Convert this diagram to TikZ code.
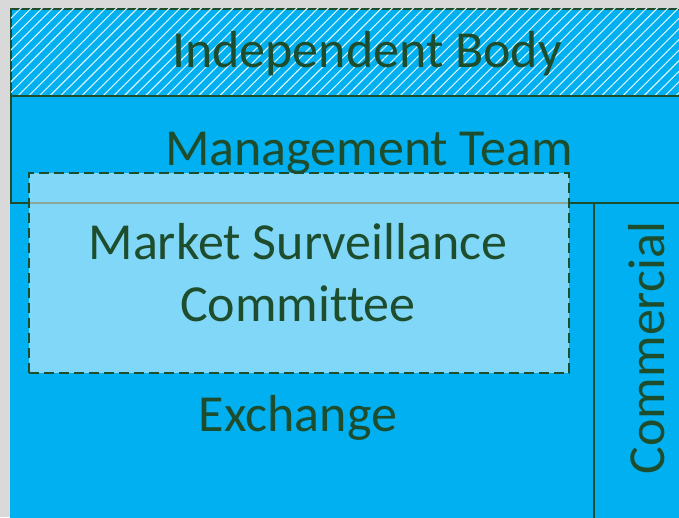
\documentclass[tikz,border=0pt]{standalone}
\usepackage{fontspec}
\setmainfont[Ligatures=NoCommon]{Carlito}
\usetikzlibrary{patterns.meta}
\definecolor{bg}{HTML}{D9D9D9}
\definecolor{blu}{HTML}{00B0F0}
\definecolor{ink}{HTML}{1E4D2E}
\tikzset{
  region/.style={fill=blu, draw=ink, line width=1.6pt},
  lbl/.style={text=ink, font=\fontsize{52}{62}\selectfont, inner sep=0pt, align=center},
}
\begin{document}
\begin{tikzpicture}[x=1pt,y=-1pt]
\useasboundingbox (0,0) rectangle (679,517);
\clip (0,0) rectangle (679,517);
\fill[bg] (0,0) rectangle (679,517);
% regions
\fill[blu] (10,202) rectangle (700,540);
\node[region, anchor=north west, minimum width=690pt, minimum height=87pt, inner sep=0pt] (ind) at (10,8) {};
\fill[pattern={Lines[angle=45,distance=7.5pt,line width=1.1pt]}, pattern color=white!85!blu] (10.8,8.8) rectangle (700,94.2);
\node[region, anchor=north west, minimum width=690pt, minimum height=107pt, inner sep=0pt] (mgmt) at (10,95) {};
\node[region, anchor=north west, minimum width=120pt, minimum height=340pt, inner sep=0pt] (comm) at (593,202) {};
\node[anchor=north west, minimum width=583pt, minimum height=320pt, inner sep=0pt] (exch) at (10,202) {};
\node[fill=white, fill opacity=0.5, draw=ink, line width=1.6pt, dash pattern=on 10pt off 5pt,
      anchor=north west, minimum width=540pt, minimum height=200pt, inner sep=0pt] (msc) at (28,172) {};
% labels
\node[lbl] (tind) at (367,54) {Independent Body};
\node[lbl] (tmgmt) at (369,153) {Management Team};
\node[lbl] (tmsc) at (298,273) {Market Surveillance\\Committee};
\node[lbl] (texch) at (298,418) {Exchange};
\node[lbl, rotate=90] (tcomm) at (647,348) {Commercial};
\end{tikzpicture}
\end{document}
